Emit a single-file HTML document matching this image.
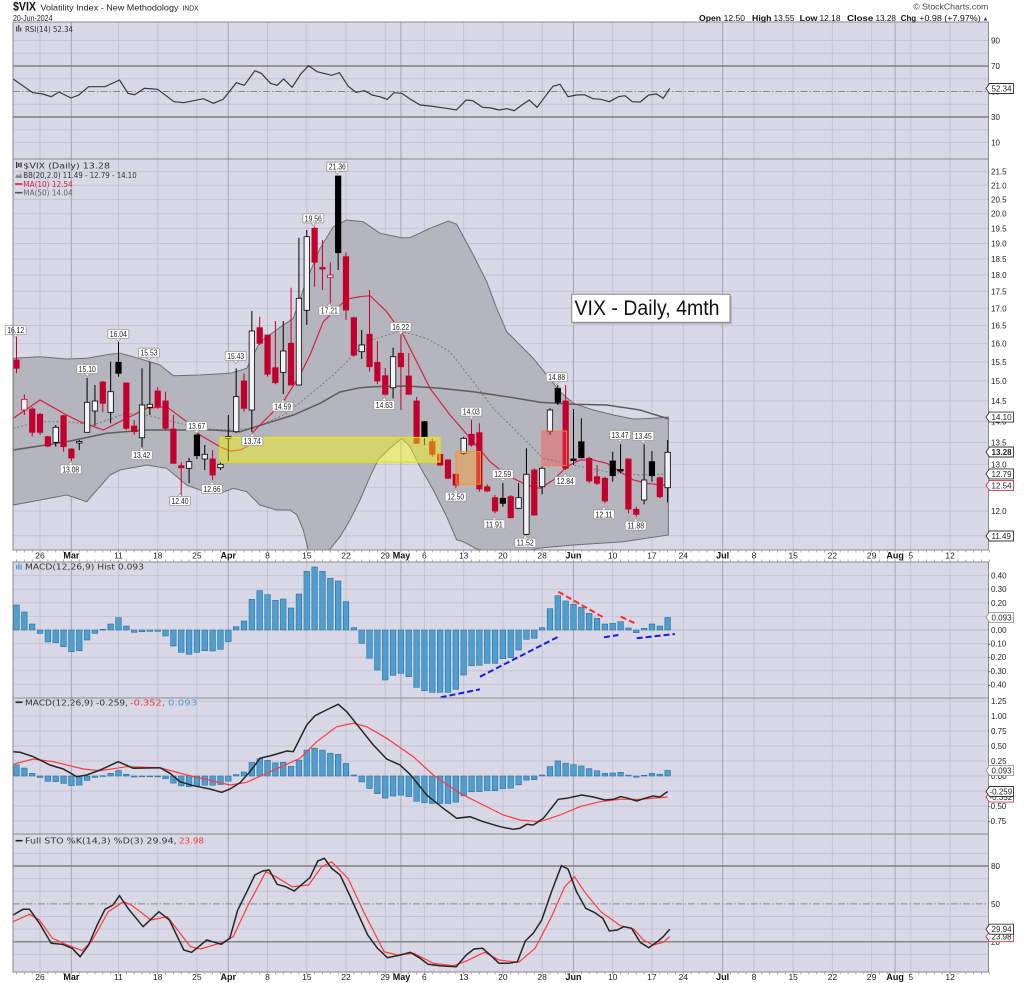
<!DOCTYPE html>
<html><head><meta charset="utf-8"><style>
html,body{margin:0;padding:0;background:#fff;}
svg{display:block;}
.ax{font-family:"Liberation Sans",sans-serif;font-size:8px;fill:#222;}
.dl{font-family:"Liberation Sans",sans-serif;font-size:8.5px;fill:#222;text-anchor:middle;}
.dlb{font-family:"Liberation Sans",sans-serif;font-size:9px;font-weight:bold;fill:#111;text-anchor:middle;}
.pl{font-family:"Liberation Sans",sans-serif;font-size:8.5px;fill:#222;text-anchor:middle;}
.lg{font-family:"DejaVu Sans",sans-serif;font-size:8px;fill:#333;}
.tg{font-family:"Liberation Sans",sans-serif;font-size:8px;fill:#222;}
</style></head><body>
<svg id="s" xmlns="http://www.w3.org/2000/svg" width="1024" height="983" viewBox="0 0 1024 983">
<defs><clipPath id="mc"><rect x="13" y="159" width="975.5" height="391"/></clipPath></defs>
<rect x="0" y="0" width="1024" height="983" fill="#fff"/>
<!-- panel backgrounds -->
<rect x="13" y="22" width="975.5" height="137" fill="#d8d8e6"/>
<rect x="13" y="159" width="975.5" height="391" fill="#d8d8e6"/>
<rect x="13" y="562" width="975.5" height="136" fill="#d8d8e6"/>
<rect x="13" y="698" width="975.5" height="136" fill="#d8d8e6"/>
<rect x="13" y="834" width="975.5" height="138" fill="#d8d8e6"/>
<g id="grid"></g>
<g id="ticks"></g>
<!-- RSI special lines -->
<line x1="13" x2="988.5" y1="66" y2="66" stroke="#6e6e6e" stroke-width="1.2"/>
<line x1="13" x2="988.5" y1="117" y2="117" stroke="#6e6e6e" stroke-width="1.2"/>
<line x1="13" x2="988.5" y1="91.5" y2="91.5" stroke="#8a8a8a" stroke-width="1" stroke-dasharray="7,2,1.5,2"/>
<!-- STO special lines -->
<line x1="13" x2="988.5" y1="866" y2="866" stroke="#6e6e6e" stroke-width="1.2"/>
<line x1="13" x2="988.5" y1="941.8" y2="941.8" stroke="#6e6e6e" stroke-width="1.2"/>
<line x1="13" x2="988.5" y1="903.9" y2="903.9" stroke="#8a8a8a" stroke-width="1" stroke-dasharray="7,2,1.5,2"/>

<!-- RSI line -->
<polyline fill="none" stroke="#3a3a3a" stroke-width="1.2" points="13.1,79 32.8,92.7 42.7,94 51.2,96.7 59,92 71,98 78.8,95 88.6,86.7 105,86.7 119.5,80 128,93.3 134.6,94.7 144.5,88.3 157.6,89.3 174,101.7 183.8,102.7 203.5,98.7 213.4,103.3 223.2,99.3 236.4,82.7 244.3,85.3 254.8,70.7 261.3,73.3 270.5,83.3 277.1,85.3 283.6,79 292.2,87.3 300.7,74 308.6,65.7 317.1,71.7 331.6,75.3 339.5,72.7 348,86 355.9,92.3 364.4,90.7 372.3,95 379.5,96.7 387.4,99.3 394,92.7 401.8,93.3 410.4,99.3 420.2,105 430,106 446.5,108.3 456.3,110 466.2,100 472.7,100.7 482.6,107.3 491.1,108 499,110 506.9,108.7 514.1,110.7 522,105 529.2,100 537.1,107.3 545,96.7 552.9,86.3 560.1,84.3 568,96.7 576.5,95 584.4,94.7 592.9,98.7 600.8,99.3 609.3,101.7 618.5,96.7 625.1,95.7 632.3,101.7 640.2,102 648.7,95 656.6,94 663.2,98.3 669.7,88.3"/>

<!-- Main panel -->
<g clip-path="url(#mc)">
<polygon fill="#b5b5bd" stroke="#6e6e6e" stroke-width="1" points="13.3,358.3 40,356.7 66.7,359 86.7,358.3 110,354.3 120,353.3 133.3,356.7 160,365 173.3,375.7 200,375 230,373.3 246.7,368.3 260,341.7 283.3,325 293.3,318.3 306.7,280 320,248.3 333.3,226.7 346.7,220 363.3,221.7 380,233.3 401.7,237.7 410,237.7 430,228.3 448.3,221 456.7,224.3 473.3,255 486.7,281.7 496.7,308.3 506.7,331.7 516.7,341.7 533.3,358.3 546.7,375 560,391.7 573.3,403.3 593.3,410 613.3,415 633.3,419 653.3,418.3 668.3,417.1 668.3,535 623.3,541.7 573.3,545 540,548 520,552 500,553 476.7,549 463.3,541.7 456.7,540 446.7,516.7 433.3,490 420,466.7 410,446.7 401.7,438.3 390,448.3 378.3,459.3 370,476.7 360,500 350,520 340,536.7 330,549 322,565 315,568 308.3,550 303.3,530 297,515 290,510 276.7,510 260,505 246.7,491.7 233.3,488.3 220,493.3 200,490 186.7,485 166.7,468.3 146.7,465 120,470 110,475 86.7,501.7 66.7,495 40,500 13.3,505"/>
<polyline fill="none" stroke="#7a7a7a" stroke-width="1" stroke-dasharray="2,2" points="13.3,428.3 40,421.7 66.7,421.7 93.3,425 126.7,413.3 146.7,415 173.3,421.7 200,428.3 226.7,430 253.3,428.3 286.7,413.3 313.3,391.7 333.3,375 360,348.3 366.7,341.7 400,331 426.7,338.3 450,351.7 473.3,381.7 493.3,408.3 520,435 543.3,458.3 573.3,465 606.7,471.7 640,475 668.3,473.9"/>
<polyline fill="none" stroke="#5c5c5c" stroke-width="1.5" points="13.3,450 66.7,441.7 106.7,433.3 146.7,430 186.7,430 213.3,430 240,431.7 266.7,423.3 293.3,415 320,403.3 340,392 360,387.7 373.3,386.7 406.7,386 440,388.3 473.3,391.7 506.7,396.7 540,402.3 573.3,404.3 606.7,405 640,410 668.3,418.8"/>
<polyline fill="none" stroke="#d8203f" stroke-width="1.2" points="13.3,418.3 40,400 66.7,415 80,421.7 103.3,430 126.7,418.3 146.7,408.3 166.7,406.7 186.7,421.7 200,435 220,446.7 230,451 240,450 246.7,446.7 253.3,431.7 266.7,418.3 283.3,401.7 300,375 310,355 323.3,321.7 346.7,299 360,296.7 370,295.7 386.7,311.7 403.3,335 416.7,361.7 430,388.3 450,415 473.3,441.7 490,461.7 506.7,475 526.7,485 540,488.3 553.3,480 566.7,466.7 580,460 593.3,460 606.7,463.3 620,471.7 633.3,480 646.7,483.3 668.3,485.8"/>
<g id="candles"></g>
<rect x="220" y="437.5" width="220" height="24.5" fill="#ffff00" fill-opacity="0.42" stroke="#e6e600" stroke-width="1.2"/>
<rect x="456" y="451.7" width="24.5" height="32.5" fill="#ff9a30" fill-opacity="0.45" stroke="#ff9010" stroke-width="1"/>
<rect x="541.7" y="431" width="25" height="34.7" fill="#ff4848" fill-opacity="0.38" stroke="#ff7a50" stroke-width="1"/>
</g>

<!-- annotation box -->
<rect x="573.5" y="296.3" width="158.3" height="28" fill="#9a9a9a" fill-opacity="0.6"/>
<rect x="571.7" y="294.3" width="158.3" height="28" fill="#fff" stroke="#888" stroke-width="1"/>
<text x="574.5" y="315" font-family="Liberation Sans, sans-serif" font-size="21" fill="#111" textLength="145" lengthAdjust="spacingAndGlyphs">VIX - Daily, 4mth</text>

<!-- price labels -->
<g id="plabels">
<text class="pl hi" x="15.7" y="333" textLength="17" lengthAdjust="spacingAndGlyphs">16.12</text>
<text class="pl hi" x="87.3" y="372" textLength="17" lengthAdjust="spacingAndGlyphs">15.10</text>
<text class="pl hi" x="118.3" y="337" textLength="17" lengthAdjust="spacingAndGlyphs">16.04</text>
<text class="pl hi" x="149" y="355.7" textLength="17" lengthAdjust="spacingAndGlyphs">15.53</text>
<text class="pl lo" x="70.7" y="472.3" textLength="17" lengthAdjust="spacingAndGlyphs">13.08</text>
<text class="pl lo" x="141.7" y="458" textLength="17" lengthAdjust="spacingAndGlyphs">13.42</text>
<text class="pl hi" x="196.7" y="429" textLength="17" lengthAdjust="spacingAndGlyphs">13.67</text>
<text class="pl lo" x="180" y="504" textLength="17" lengthAdjust="spacingAndGlyphs">12.40</text>
<text class="pl lo" x="212" y="492" textLength="17" lengthAdjust="spacingAndGlyphs">12.66</text>
<text class="pl hi" x="235.7" y="359" textLength="17" lengthAdjust="spacingAndGlyphs">15.43</text>
<text class="pl lo" x="252.3" y="444" textLength="17" lengthAdjust="spacingAndGlyphs">13.74</text>
<text class="pl lo" x="282.7" y="409.7" textLength="17" lengthAdjust="spacingAndGlyphs">14.59</text>
<text class="pl hi" x="313.3" y="221.3" textLength="17" lengthAdjust="spacingAndGlyphs">19.56</text>
<text class="pl hi" x="337.3" y="169.7" textLength="17" lengthAdjust="spacingAndGlyphs">21.36</text>
<text class="pl lo" x="329.3" y="313.7" textLength="17" lengthAdjust="spacingAndGlyphs">17.21</text>
<text class="pl hi" x="400.7" y="330" textLength="17" lengthAdjust="spacingAndGlyphs">16.22</text>
<text class="pl lo" x="384.3" y="408" textLength="17" lengthAdjust="spacingAndGlyphs">14.63</text>
<text class="pl hi" x="471.3" y="414.7" textLength="17" lengthAdjust="spacingAndGlyphs">14.03</text>
<text class="pl lo" x="455.7" y="499.7" textLength="17" lengthAdjust="spacingAndGlyphs">12.50</text>
<text class="pl hi" x="502.7" y="477" textLength="17" lengthAdjust="spacingAndGlyphs">12.59</text>
<text class="pl lo" x="494.3" y="527.3" textLength="17" lengthAdjust="spacingAndGlyphs">11.91</text>
<text class="pl lo" x="525.3" y="545.7" textLength="17" lengthAdjust="spacingAndGlyphs">11.52</text>
<text class="pl hi" x="556.7" y="380" textLength="17" lengthAdjust="spacingAndGlyphs">14.88</text>
<text class="pl lo" x="565.3" y="484" textLength="17" lengthAdjust="spacingAndGlyphs">12.84</text>
<text class="pl hi" x="620" y="438" textLength="17" lengthAdjust="spacingAndGlyphs">13.47</text>
<text class="pl hi" x="643.3" y="439" textLength="17" lengthAdjust="spacingAndGlyphs">13.45</text>
<text class="pl lo" x="604" y="517.3" textLength="17" lengthAdjust="spacingAndGlyphs">12.11</text>
<text class="pl lo" x="635.7" y="528.7" textLength="17" lengthAdjust="spacingAndGlyphs">11.88</text>
</g>

<!-- MACD hist panel -->
<line x1="13" x2="988.5" y1="630" y2="630" stroke="#b8b8c8" stroke-width="1"/>
<g id="hist"></g>
<g fill="none" stroke-width="2" stroke-dasharray="6,3">
<line x1="440.7" y1="697.3" x2="480" y2="689.3" stroke="#1a1ae6"/>
<line x1="480" y1="676.7" x2="558.3" y2="636.7" stroke="#1a1ae6"/>
<line x1="558.3" y1="591.7" x2="605" y2="618.3" stroke="#ff2a2a"/>
<line x1="620.7" y1="616.7" x2="636.7" y2="624" stroke="#ff2a2a"/>
<line x1="604" y1="637.3" x2="618.3" y2="635" stroke="#1a1ae6"/>
<line x1="636.7" y1="638.3" x2="675" y2="634" stroke="#1a1ae6"/>
</g>

<!-- MACD panel -->
<g id="mhist"></g>
<polyline fill="none" stroke="#ff3a3a" stroke-width="1.2" points="13.3,764.3 33.3,759 53.3,761.7 83.3,769 100,770.7 126.7,766.7 160,767.7 186.7,775 213.3,781 230,785 246.7,782.3 266.7,773.3 286.7,764.3 300,758.3 316.7,741.7 336.7,726.7 353.3,723.3 366.7,726.7 386.7,738.3 413.3,756.7 433.3,775 460,793.3 483.3,805 503.3,815 520,820 540,821.7 560,815 580,806.7 600,801.7 620,799.3 640,799.3 667.7,797"/>
<polyline fill="none" stroke="#262626" stroke-width="1.5" points="13.3,751.7 20,752.3 33.3,756.7 50,765 63.3,769 76.7,776.7 86.7,775 100,770 118.3,761.7 133.3,768.3 160,767.7 170,773.3 180,781.7 193.3,785.7 210,789 221.7,792.3 230,789 240,782.7 250,771.7 260,758.3 273.3,755 286.7,751 293.3,751.7 306.7,725 315,715.7 328.3,709 338.3,704.3 346.7,711.7 360,728.3 373.3,745 386.7,759 400,765 410,774.3 426.7,795 443.3,808.3 456.7,818.3 470,816.7 483.3,821.7 500,826.7 513.3,829.3 520,828.3 526.7,824.3 533.3,825 543.3,818.3 558.3,799.3 566.7,798.3 581.7,795 593.3,797 605,800 613.3,799.3 620.7,796.7 628.3,798.3 636.7,801 645,798.3 652.7,796 660,797 667.7,791.5"/>

<!-- STO panel -->
<polyline fill="none" stroke="#ff3a3a" stroke-width="1.2" points="13.1,921.7 29.5,914.3 39.4,920 52.5,938.3 65.7,944.3 82.1,950.7 91.9,941 108.3,911.7 123.4,901.7 131.3,905 151,920 167.4,916.7 190.4,946.7 200.3,949 223.2,942.3 233.1,936.7 248.2,905 265.9,871.7 275.8,876.7 292.2,886.7 308.6,885 321.7,866.7 331.6,861.7 348,878.3 364.4,913.3 384.1,951.7 397.2,955 413.7,953.3 433.4,963.3 453.1,965.7 464.9,961.7 484.6,952.3 499,960 518.7,962.3 535.1,948.3 551.5,916.7 564.7,886.7 574.5,876.7 584.4,891.7 600.8,911.7 620.5,925.7 633.6,929 643.5,940 653.3,945 663.2,942.3 669.7,936.7"/>
<polyline fill="none" stroke="#262626" stroke-width="1.5" points="13.1,915 23,909.3 29.5,909.3 39.4,923.3 51.2,943.3 62.4,944.3 72.2,948.3 80.1,956.7 88.6,945 97.2,925 105,909.3 112.9,905 119.5,895.7 128,908.3 143.1,926.7 158.9,911.7 169.4,920 183.8,950 191.7,952.3 206.8,940 221.3,944.3 229.8,938.3 237.7,910 246.9,891.7 254.8,875 262.6,871 269.2,870 277.1,884.3 285.6,886.7 294.2,891 302,884.3 309.9,877.7 317.8,861 324.4,858.3 331.6,868.3 340.1,875 348,891.7 357.8,913.3 367.7,935 377.5,948.3 387.4,957.7 400.5,955 410.4,952.3 420.2,958.3 428.1,964.3 439.9,965.7 456.3,966.7 466.2,955 474,949 482.6,948.3 491.1,955.7 499,963.3 508.9,963.3 517.4,961.7 525.3,941 533.2,933.3 541.7,920 551.5,891.7 561.4,865.7 568,869 576.5,891.7 585.7,908.3 594.2,912.3 602.8,918.3 609.3,931 617.2,930 623.8,926.7 631.6,928.3 640.2,942.3 648.7,947.7 656.6,942.3 663.2,936.7 669.7,929.2"/>

<!-- panel borders -->
<g stroke="#8a8a8a" stroke-width="1" fill="none">
<rect x="13" y="22" width="975.5" height="528"/>
<line x1="13" x2="988.5" y1="159" y2="159"/>
<rect x="13" y="562" width="975.5" height="410"/>
<line x1="13" x2="988.5" y1="698" y2="698"/>
<line x1="13" x2="988.5" y1="834" y2="834"/>
</g>

<!-- header -->
<text x="13" y="10.5" font-family="Liberation Sans, sans-serif" font-size="12" font-weight="bold" fill="#111" textLength="23" lengthAdjust="spacingAndGlyphs">$VIX</text>
<text x="40.5" y="10.5" font-family="Liberation Sans, sans-serif" font-size="8.5" fill="#222" textLength="138" lengthAdjust="spacingAndGlyphs">Volatility Index - New Methodology</text>
<text x="182.5" y="10.5" font-family="Liberation Sans, sans-serif" font-size="7" fill="#222" textLength="16" lengthAdjust="spacingAndGlyphs">INDX</text>
<text x="13" y="21" font-family="Liberation Sans, sans-serif" font-size="8.5" fill="#222" textLength="39.5" lengthAdjust="spacingAndGlyphs">20-Jun-2024</text>
<text x="913.3" y="9.5" font-family="Liberation Sans, sans-serif" font-size="8.5" fill="#444" textLength="75" lengthAdjust="spacingAndGlyphs">© StockCharts.com</text>
<g font-family="Liberation Sans, sans-serif" font-size="8.5" fill="#111">
<text x="699" y="21" font-weight="bold" textLength="22" lengthAdjust="spacingAndGlyphs">Open</text>
<text x="723.6" y="21" textLength="21.4" lengthAdjust="spacingAndGlyphs">12.50</text>
<text x="752" y="21" font-weight="bold" textLength="19.5" lengthAdjust="spacingAndGlyphs">High</text>
<text x="773.5" y="21" textLength="21" lengthAdjust="spacingAndGlyphs">13.55</text>
<text x="799.7" y="21" font-weight="bold" textLength="17.8" lengthAdjust="spacingAndGlyphs">Low</text>
<text x="819.5" y="21" textLength="21" lengthAdjust="spacingAndGlyphs">12.18</text>
<text x="847" y="21" font-weight="bold" textLength="26.3" lengthAdjust="spacingAndGlyphs">Close</text>
<text x="875.5" y="21" textLength="20.5" lengthAdjust="spacingAndGlyphs">13.28</text>
<text x="900.7" y="21" font-weight="bold" textLength="15.5" lengthAdjust="spacingAndGlyphs">Chg</text>
<text x="919.3" y="21" textLength="61.4" lengthAdjust="spacingAndGlyphs">+0.98 (+7.97%)</text>
<text x="982.5" y="20.5" font-size="6" fill="#333">▲</text>
</g>

<!-- legends -->
<g>
<rect x="16" y="26.5" width="1.3" height="5" fill="#555"/><rect x="18" y="25" width="1.3" height="6.5" fill="#555"/><rect x="20" y="27.5" width="1.3" height="4" fill="#555"/>
<text class="lg" x="25" y="32" textLength="48" lengthAdjust="spacingAndGlyphs">RSI(14) 52.34</text>
<rect x="16" y="162" width="1.3" height="6" fill="#333"/><rect x="18.2" y="163" width="1.3" height="4" fill="#333"/><rect x="20.4" y="162.5" width="1.3" height="5" fill="#333"/>
<text class="lg" x="23.3" y="168.7" textLength="86.7" lengthAdjust="spacingAndGlyphs">$VIX (Daily) 13.28</text>
<path d="M15,178 L17,174 L19,176 L21,172.5 L22,178 Z" fill="#888"/>
<text class="lg" x="23.3" y="178" textLength="113.4" lengthAdjust="spacingAndGlyphs">BB(20,2.0) 11.49 - 12.79 - 14.10</text>
<line x1="15" x2="22.5" y1="184" y2="184" stroke="#d8203f" stroke-width="1.6"/>
<text class="lg" x="23.3" y="187" fill="#d8203f" style="fill:#d8203f" textLength="49.4" lengthAdjust="spacingAndGlyphs">MA(10) 12.54</text>
<line x1="15" x2="22.5" y1="192.7" y2="192.7" stroke="#555" stroke-width="1.6"/>
<text class="lg" x="23.3" y="195.7" style="fill:#666" textLength="49.4" lengthAdjust="spacingAndGlyphs">MA(50) 14.04</text>
<rect x="16" y="565" width="1.3" height="4.5" fill="#4e9ecf"/><rect x="18.2" y="563.5" width="1.3" height="6" fill="#4e9ecf"/><rect x="20.4" y="564.5" width="1.3" height="5" fill="#4e9ecf"/>
<text class="lg" x="25" y="569.7" textLength="119" lengthAdjust="spacingAndGlyphs">MACD(12,26,9) Hist 0.093</text>
<line x1="15.5" x2="22.5" y1="702.3" y2="702.3" stroke="#222" stroke-width="1.6"/>
<text class="lg" x="25" y="705.3" textLength="103" lengthAdjust="spacingAndGlyphs">MACD(12,26,9) -0.259,</text>
<text class="lg" x="130" y="705.3" style="fill:#ff3030" textLength="35" lengthAdjust="spacingAndGlyphs">-0.352,</text>
<text class="lg" x="168" y="705.3" style="fill:#4e9ecf" textLength="29.3" lengthAdjust="spacingAndGlyphs">0.093</text>
<line x1="15.5" x2="22.5" y1="840.7" y2="840.7" stroke="#222" stroke-width="1.6"/>
<text class="lg" x="25" y="843.7" textLength="151.7" lengthAdjust="spacingAndGlyphs">Full STO %K(14,3) %D(3) 29.94,</text>
<text class="lg" x="179" y="843.7" style="fill:#ff3030" textLength="25" lengthAdjust="spacingAndGlyphs">23.98</text>
</g>

<!-- right axis labels -->
<g class="ax">
<text class="ax" x="991" y="43.5">90</text>
<text class="ax" x="991" y="69">70</text>
<text class="ax" x="991" y="94.5">50</text>
<text class="ax" x="991" y="120">30</text>
<text class="ax" x="991" y="145.5">10</text>
<text class="ax" x="991" y="174.6">21.5</text>
<text class="ax" x="991" y="188.3">21.0</text>
<text class="ax" x="991" y="202.3">20.5</text>
<text class="ax" x="991" y="216.7">20.0</text>
<text class="ax" x="991" y="231.4">19.5</text>
<text class="ax" x="991" y="246.6">19.0</text>
<text class="ax" x="991" y="262.1">18.5</text>
<text class="ax" x="991" y="278">18.0</text>
<text class="ax" x="991" y="294.4">17.5</text>
<text class="ax" x="991" y="311.3">17.0</text>
<text class="ax" x="991" y="328.7">16.5</text>
<text class="ax" x="991" y="346.6">16.0</text>
<text class="ax" x="991" y="365">15.5</text>
<text class="ax" x="991" y="384.1">15.0</text>
<text class="ax" x="991" y="403.9">14.5</text>
<text class="ax" x="991" y="424.3">14.0</text>
<text class="ax" x="991" y="445.5">13.5</text>
<text class="ax" x="991" y="467.4">13.0</text>
<text class="ax" x="991" y="514">12.0</text>
<text class="ax" x="991" y="578.6">0.40</text>
<text class="ax" x="991" y="592.2">0.30</text>
<text class="ax" x="991" y="605.8">0.20</text>
<text class="ax" x="991" y="633">0.00</text>
<text class="ax" x="988" y="646.6">-0.10</text>
<text class="ax" x="988" y="660.2">-0.20</text>
<text class="ax" x="988" y="673.8">-0.30</text>
<text class="ax" x="988" y="687.4">-0.40</text>
<text class="ax" x="991" y="704">1.25</text>
<text class="ax" x="991" y="719">1.00</text>
<text class="ax" x="991" y="734">0.75</text>
<text class="ax" x="991" y="749">0.50</text>
<text class="ax" x="991" y="764">0.25</text>
<text class="ax" x="991" y="779">0.00</text>
<text class="ax" x="988" y="809">-0.50</text>
<text class="ax" x="988" y="824">-0.75</text>
<text class="ax" x="991" y="869">80</text>
<text class="ax" x="991" y="906.9">50</text>
<text class="ax" x="991" y="944.8">20</text>
</g>

<!-- right axis tags -->
<g id="tags">
<text class="tg" x="991.5" y="91.5">52.34</text>
<text class="tg" x="991.5" y="420.1">14.10</text>
<text class="tg" x="991.5" y="455" style="font-weight:bold">13.28</text>
<text class="tg" x="991.5" y="476.9">12.79</text>
<text class="tg red" x="991.5" y="488.4">12.54</text>
<text class="tg" x="991.5" y="539">11.49</text>
<text class="tg gry" x="991.5" y="620.4">0.093</text>
<text class="tg gry" x="991.5" y="773.4">0.093</text>
<text class="tg red" x="989.5" y="800.1">-0.352</text>
<text class="tg" x="989.5" y="794.5">-0.259</text>
<text class="tg red" x="991.5" y="939.7">23.98</text>
<text class="tg" x="991.5" y="932.2">29.94</text>
</g>

<!-- date axis labels top -->
<g>
<text class="dl" x="40" y="558.5">26</text>
<text class="dlb" x="71.4" y="558.5">Mar</text>
<text class="dl" x="118.5" y="558.5">11</text>
<text class="dl" x="157.7" y="558.5">18</text>
<text class="dl" x="196.9" y="558.5">25</text>
<text class="dlb" x="228.3" y="558.5">Apr</text>
<text class="dl" x="267.5" y="558.5">8</text>
<text class="dl" x="306.8" y="558.5">15</text>
<text class="dl" x="346" y="558.5">22</text>
<text class="dl" x="385.2" y="558.5">29</text>
<text class="dlb" x="401.5" y="558.5">May</text>
<text class="dl" x="424.4" y="558.5">6</text>
<text class="dl" x="463.7" y="558.5">13</text>
<text class="dl" x="502.9" y="558.5">20</text>
<text class="dl" x="542.1" y="558.5">28</text>
<text class="dlb" x="573.5" y="558.5">Jun</text>
<text class="dl" x="612.7" y="558.5">10</text>
<text class="dl" x="651.9" y="558.5">17</text>
<text class="dl" x="683.3" y="558.5">24</text>
<text class="dlb" x="722.6" y="558.5">Jul</text>
<text class="dl" x="754" y="558.5">8</text>
<text class="dl" x="793.2" y="558.5">15</text>
<text class="dl" x="832.4" y="558.5">22</text>
<text class="dl" x="871.6" y="558.5">29</text>
<text class="dlb" x="895.1" y="558.5">Aug</text>
<text class="dl" x="910.8" y="558.5">5</text>
<text class="dl" x="950.1" y="558.5">12</text>
</g>
<!-- date axis labels bottom -->
<g>
<text class="dl" x="40" y="980">26</text>
<text class="dlb" x="71.4" y="980">Mar</text>
<text class="dl" x="118.5" y="980">11</text>
<text class="dl" x="157.7" y="980">18</text>
<text class="dl" x="196.9" y="980">25</text>
<text class="dlb" x="228.3" y="980">Apr</text>
<text class="dl" x="267.5" y="980">8</text>
<text class="dl" x="306.8" y="980">15</text>
<text class="dl" x="346" y="980">22</text>
<text class="dl" x="385.2" y="980">29</text>
<text class="dlb" x="401.5" y="980">May</text>
<text class="dl" x="424.4" y="980">6</text>
<text class="dl" x="463.7" y="980">13</text>
<text class="dl" x="502.9" y="980">20</text>
<text class="dl" x="542.1" y="980">28</text>
<text class="dlb" x="573.5" y="980">Jun</text>
<text class="dl" x="612.7" y="980">10</text>
<text class="dl" x="651.9" y="980">17</text>
<text class="dl" x="683.3" y="980">24</text>
<text class="dlb" x="722.6" y="980">Jul</text>
<text class="dl" x="754" y="980">8</text>
<text class="dl" x="793.2" y="980">15</text>
<text class="dl" x="832.4" y="980">22</text>
<text class="dl" x="871.6" y="980">29</text>
<text class="dlb" x="895.1" y="980">Aug</text>
<text class="dl" x="910.8" y="980">5</text>
<text class="dl" x="950.1" y="980">12</text>
</g>
</svg>
<script>
(function(){
var NS='http://www.w3.org/2000/svg';
function el(tag,a,p,before){var e=document.createElementNS(NS,tag);for(var k in a)e.setAttribute(k,a[k]);if(before)p.insertBefore(e,before);else p.appendChild(e);return e;}
function X(i){return 16.5+7.845*i;}
var grid=document.getElementById('grid');
var panels=[[22,159],[159,550],[562,698],[698,834],[834,972]];
var wk=[3,13,18,23,32,37,42,47,52,57,62,67,76,81,85,94,99,104,109,114,119];
var mo=[7,27,49,71,90,112];
function hl(y){el('line',{x1:13,x2:988.5,y1:y,y2:y,stroke:'#c4c4d4','stroke-width':1},grid);}
[10,20,40,60,80,90].forEach(function(v){hl(91.5-(v-50)*1.275);});
for(var p=11.5;p<=21.51;p+=0.5)hl(511-(Math.log(p)-2.48491)*582);
for(var v=-0.4;v<=0.41;v+=0.1)hl(630-v*136);
for(var v2=-0.75;v2<=1.26;v2+=0.25)hl(776-v2*60);
[10,30,40,60,70,90].forEach(function(v){hl(967-v*1.262);});
panels.forEach(function(pp){
 wk.forEach(function(i){el('line',{x1:X(i),x2:X(i),y1:pp[0],y2:pp[1],stroke:'#c2c2d3','stroke-width':1},grid);});
 mo.forEach(function(i){el('line',{x1:X(i),x2:X(i),y1:pp[0],y2:pp[1],stroke:'#acacbf','stroke-width':1.2},grid);});
});
// axis ticks
var tk=document.getElementById('ticks');
for(var i=0;i<=124;i++){var x=X(i);
 el('line',{x1:x,x2:x,y1:550,y2:552.5,stroke:'#999','stroke-width':0.8},tk);
 el('line',{x1:x,x2:x,y1:559.5,y2:562,stroke:'#999','stroke-width':0.8},tk);
 el('line',{x1:x,x2:x,y1:972,y2:974.5,stroke:'#999','stroke-width':0.8},tk);
}
// candles
var C=[['R',360,368.3,335,373.3],['h',399.3,410,394.3,415],['R',409,432.3,407,436.7],['R',414.3,432.3,413,435],['R',436.7,446,436,447.3],['H',427.3,442.3,425,446.7],['R',415.7,446.7,415,451.7],['R',449,458,448.3,461],['H',441.5,443,440,450],['H',402.3,432.3,378,432.3],
['H',401,411,385,425.7],['R',382,403.3,381,412],['H',391.7,412.3,361.7,423.3],['B',362.3,373.3,341.7,376.7],['R',383,428.3,383,430],['R',426,431.7,420,435],['H',405,437.7,368.3,448],['H',404.3,407.3,361.7,415],['R',391,406.7,387,409],['R',401,428.3,391.7,430],
['R',429,463.3,415,463.3],['R',465.7,467.7,462,495],['H',461.7,468.3,458,483],['B',435,455.7,433,459],['H',454.3,459,445,470],['R',459,475,450,480],['H',464.3,467.7,460,470],['H',436.5,438.5,415,461.7],['H',396.7,431.7,368.3,433],['R',381,408.3,373.3,411.7],
['H',331,410,311,432],['R',327.7,343.3,316.7,345],['R',335,374.3,335,376.7],['R',367.7,382.7,321,384.3],['H',351,372.3,321,394],['R',343.3,385,287.7,385],['H',298.3,385,237.7,385],['H',236.7,310.3,230,325],['R',228.3,262.3,226.7,286.7],['R',267.5,269,240,290],
['h',275,277.7,262.3,303.3],['B',176,252.7,176,270],['R',256.7,310,252.3,320],['R',317.7,355,316.7,356.7],['H',345,351.7,330,359],['R',334.3,366.7,290,371.7],['R',362.3,381,341,384.3],['R',375.7,394.3,368,395.7],['H',356.7,387.7,347.7,398.3],['R',353.3,366.7,325,410],
['R',376,394.3,353,395],['R',401,443.3,397,443.3],['B',421.7,436.7,421,445],['R',441.7,454.3,438.3,456.7],['R',454.3,465,452,466],['R',460,478.3,459,479],['R',474.3,485,473,488],['H',438.3,453.3,436.7,455],['R',434.3,445,420,446.7],['R',432.7,489,423.3,491.7],
['R',486.7,491,484,492],['R',497.7,511,495,513.3],['B',498.3,503.3,483,506.7],['R',496.7,517.7,495,518.3],['H',497.7,508.3,483,509],['H',474.3,534.3,448.3,535],['R',470,515,468.3,515.7],['H',468.3,486.7,466.7,494.3],['H',410,431.7,408.3,435],['B',388.3,402.3,385,405],
['R',401,468.3,385,470],['B',459,460.5,409,465],['B',441.7,457.7,418.3,458.3],['R',458.3,481,456.7,483.3],['R',476.7,483.3,465,485],['R',478.3,501,476.7,503.3],['B',461,475.7,451.7,481.7],['B',469.5,471,444,473.3],['R',459,509,458.3,513.3],['R',509.3,514.3,506.7,516.7],
['H',480,500,444.3,504.3],['B',461.7,475.7,451,481.7],['R',477.7,496.7,476.7,498.3],['H',452.3,487.7,440,502.3]];
var cg=document.getElementById('candles');
C.forEach(function(c,i){var x=X(i),t=c[0];var col=(t==='R'||t==='h')?'#c3002d':'#000';
 el('line',{x1:x,x2:x,y1:c[3],y2:c[4],stroke:col,'stroke-width':1},cg);
 var top=Math.min(c[1],c[2]),ht=Math.max(1.2,Math.abs(c[2]-c[1]));
 el('rect',{x:x-2.7,y:top,width:5.4,height:ht,fill:(t==='H'||t==='h')?'#f3f3f7':col,stroke:col,'stroke-width':0.8},cg);
});
// histogram
var H=[605,612,624,633.3,642,642.7,646.7,651.7,650.7,640,633.3,629.3,624,617.7,626,632.3,631.7,631.3,631.3,636,646,652.3,654.3,652.3,650.7,651,649.3,641.7,626.7,621,599.3,590.7,594.7,600.3,599,608,594,571.3,567,571.3,578.3,581,601.7,627.7,643.3,658.3,670,680,675.3,673.3,676.7,687.3,690.7,692.3,692.3,692.3,689.3,675,665.7,665.3,663.3,663.3,658.7,657.7,650,639.3,638.3,627.7,608.7,595.7,601,604.3,607.3,613.3,618.3,624,623.3,621.7,628,632.7,628.3,624,626,617.4];
var hg=document.getElementById('hist'),mg=document.getElementById('mhist');
H.forEach(function(y,i){var x=X(i);var v=(630-y)/136;
 el('rect',{x:x-2.8,y:Math.min(y,630),width:5.6,height:Math.max(0.8,Math.abs(630-y)),fill:'#4e9ecf',stroke:'#2f6f9c','stroke-width':0.6},hg);
 var y2=776-v*60;
 el('rect',{x:x-2.8,y:Math.min(y2,776),width:5.6,height:Math.max(0.8,Math.abs(776-y2)),fill:'#4e9ecf',stroke:'#2f6f9c','stroke-width':0.6},mg);
});
// price label boxes
var pls=document.querySelectorAll('#plabels text');
Array.prototype.forEach.call(pls,function(t){var cx=parseFloat(t.getAttribute('x')),cy=parseFloat(t.getAttribute('y'))-3;var hi=t.classList.contains('hi');var par=t.parentNode;
 var pts=hi?[(cx-3)+','+(cy+4),(cx+3)+','+(cy+4),cx+','+(cy+7.5)]:[(cx-3)+','+(cy-4),(cx+3)+','+(cy-4),cx+','+(cy-7.5)];
 el('polygon',{points:pts.join(' '),fill:'#fff',stroke:'#9a9a9a','stroke-width':0.8},par,t);
 el('rect',{x:cx-10.5,y:cy-4.5,width:21,height:9,fill:'#fff',stroke:'#9a9a9a','stroke-width':0.8,rx:1},par,t);
});
// axis tags
var tgs=document.querySelectorAll('#tags text');
Array.prototype.forEach.call(tgs,function(t){var cy=parseFloat(t.getAttribute('y'))-3;var par=t.parentNode;
 var col=t.classList.contains('red')?'#e0304a':(t.classList.contains('gry')?'#999':'#333');
 var d='M986,'+cy+' L989.5,'+(cy-5)+' L1013.5,'+(cy-5)+' L1013.5,'+(cy+5)+' L989.5,'+(cy+5)+' Z';
 el('path',{d:d,fill:'#fff',stroke:col,'stroke-width':0.9},par,t);
});
})();
</script>
</body></html>
